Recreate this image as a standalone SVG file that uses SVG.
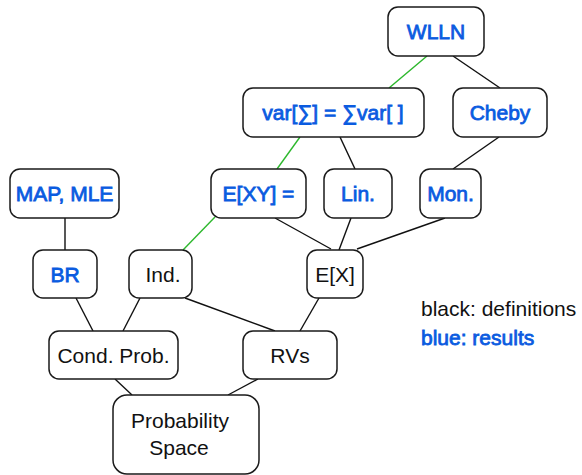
<svg xmlns="http://www.w3.org/2000/svg" width="582" height="475" viewBox="0 0 582 475">
<style>
.box{fill:#fff;stroke:#1a1a1a;stroke-width:1.5}
.e{stroke:#111;stroke-width:1.4;fill:none}
.g{stroke:#2db82d;stroke-width:1.4;fill:none}
text{font-family:"Liberation Sans",Arial,"DejaVu Sans",sans-serif;font-size:21px;text-anchor:middle}
.d{fill:#111}
.r{fill:#0a5be0;stroke:#0a5be0;stroke-width:0.8}
</style>
<rect width="582" height="475" fill="#fff"/>
<g id="connectors">
<line class="g" x1="427" y1="56" x2="389" y2="88"/>
<line class="e" x1="453" y1="56" x2="500" y2="88"/>
<line class="g" x1="300" y1="137" x2="277" y2="169"/>
<line class="e" x1="340" y1="137" x2="355" y2="169"/>
<line class="e" x1="499" y1="137" x2="453" y2="169"/>
<line class="e" x1="65" y1="218" x2="65" y2="250"/>
<line class="g" x1="215" y1="217" x2="183" y2="250"/>
<line class="e" x1="275" y1="218" x2="331" y2="249"/>
<line class="e" x1="351" y1="218" x2="339" y2="250"/>
<line class="e" x1="445" y1="218" x2="357" y2="249"/>
<line class="e" x1="76" y1="298" x2="93" y2="331"/>
<line class="e" x1="140" y1="298" x2="123" y2="331"/>
<line class="e" x1="185" y1="298" x2="275" y2="331"/>
<line class="e" x1="319" y1="298" x2="300" y2="331"/>
<line class="e" x1="115" y1="379" x2="132" y2="395"/>
<line class="e" x1="258" y1="379" x2="228" y2="395"/>
</g>
<g id="wlln"><rect class="box" x="388" y="7" width="96" height="49" rx="10"/><text class="r" x="436" y="39">WLLN</text></g>
<g id="var"><rect class="box" x="243" y="88" width="181" height="49" rx="10"/><text class="r" x="333" y="120">var[∑] = ∑var[ ]</text></g>
<g id="cheby"><rect class="box" x="453" y="88" width="94" height="49" rx="10"/><text class="r" x="500" y="120">Cheby</text></g>
<g id="mapmle"><rect class="box" x="10" y="169" width="109" height="49" rx="10"/><text class="r" x="64.5" y="201">MAP, MLE</text></g>
<g id="exy"><rect class="box" x="211" y="169" width="95" height="49" rx="10"/><text class="r" x="258.5" y="201">E[XY] =</text></g>
<g id="lin"><rect class="box" x="324" y="169" width="68" height="49" rx="10"/><text class="r" x="358" y="201">Lin.</text></g>
<g id="mon"><rect class="box" x="420" y="169" width="61" height="49" rx="10"/><text class="r" x="450.5" y="201">Mon.</text></g>
<g id="br"><rect class="box" x="33" y="250" width="64" height="48" rx="10"/><text class="r" x="65" y="282">BR</text></g>
<g id="ind"><rect class="box" x="129" y="250" width="63" height="48" rx="10"/><text class="d" x="163" y="282">Ind.</text></g>
<g id="ex"><rect class="box" x="307" y="250" width="56" height="48" rx="10"/><text class="d" x="335" y="282">E[X]</text></g>
<g id="cond"><rect class="box" x="49" y="331" width="129" height="48" rx="10"/><text class="d" x="113.5" y="363">Cond. Prob.</text></g>
<g id="rvs"><rect class="box" x="243" y="331" width="94" height="48" rx="10"/><text class="d" x="290" y="363">RVs</text></g>
<g id="prob"><rect class="box" x="113" y="395" width="146" height="79" rx="14"/><text class="d" x="180" y="428">Probability</text><text class="d" x="179" y="455">Space</text></g>
<g id="legend">
<text class="d" x="421" y="316" style="text-anchor:start">black: definitions</text>
<text class="r" x="421" y="345" style="text-anchor:start">blue: results</text>
</g>
</svg>
